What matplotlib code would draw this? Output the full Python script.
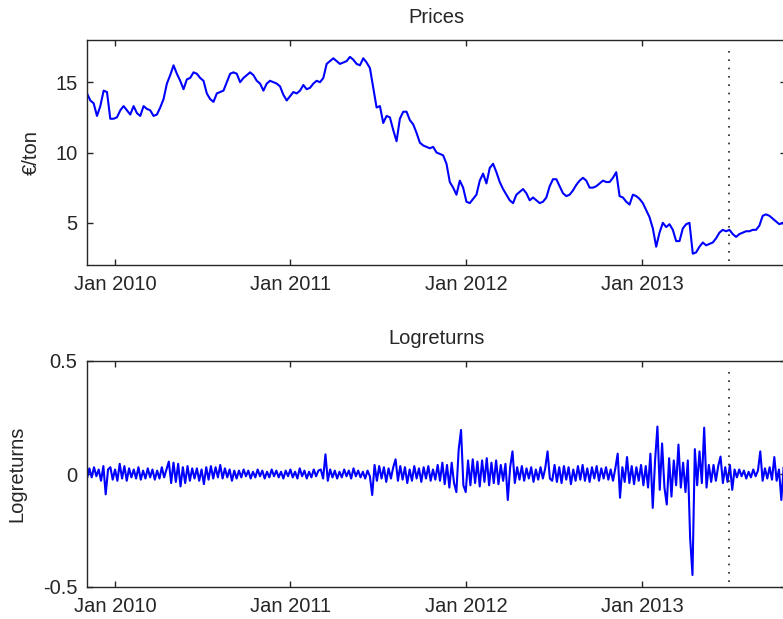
import numpy as np
import pandas as pd
import matplotlib
matplotlib.use('Agg')
import matplotlib.pyplot as plt
import matplotlib.dates as mdates

# weekly prices (EUR/ton), Nov 2009 - Oct 2013
prices = [
    14.2, 13.7, 13.5, 12.6, 13.3, 14.4, 14.3, 12.4, 12.4, 12.5,
    13.0, 13.3, 13.0, 12.7, 13.3, 12.8, 12.6, 13.3, 13.1, 13.0,
    12.6, 12.7, 13.2, 13.8, 14.9, 15.5, 16.2, 15.6, 15.1, 14.5,
    15.2, 15.3, 15.7, 15.6, 15.3, 15.1, 14.2, 13.8, 13.6, 14.2,
    14.3, 14.4, 15.0, 15.6, 15.7, 15.6, 15.0, 15.3, 15.5, 15.7,
    15.5, 15.1, 14.9, 14.4, 14.9, 15.1, 15.0, 14.9, 14.7, 14.1,
    13.7, 14.0, 14.3, 14.2, 14.4, 14.8, 14.5, 14.6, 14.9, 15.1,
    15.0,
    15.3, 16.3, 16.5, 16.7, 16.5, 16.3, 16.4, 16.5, 16.8, 16.6,
    16.3, 16.2, 16.7, 16.4, 16.0, 14.6, 13.2, 13.3, 12.1, 12.6,
    12.5, 11.6, 10.8, 12.4, 12.9, 12.9, 12.3, 12.0, 11.4, 10.7,
    10.5, 10.4, 10.3, 10.4, 10.0, 9.9, 9.8, 9.2, 7.9, 7.5,
    7.0, 8.0, 7.5, 6.5, 6.4, 6.7, 7.0, 8.0, 8.5, 7.8,
    8.9, 9.2, 8.6, 7.9, 7.4, 7.0, 6.6, 6.4, 7.0, 7.2,
    7.4, 7.1, 6.6, 6.8, 6.6, 6.4, 6.5, 6.8, 7.6,
    8.1, 8.1, 7.6, 7.1, 6.9, 7.0, 7.3, 7.7, 8.0, 8.2,
    8.0, 7.5, 7.5, 7.6, 7.8, 8.0, 7.9, 7.9, 8.2, 8.6,
    6.9, 6.8, 6.5, 6.3, 7.0, 6.9, 6.7, 6.4, 5.9, 5.4,
    4.6, 3.3, 4.3, 5.0, 4.7, 4.9, 4.5, 3.7, 3.7, 4.6,
    4.9, 5.0, 2.8, 2.9, 3.3, 3.6, 3.4, 3.5, 3.6, 3.9,
    4.3, 4.5, 4.4, 4.5, 4.2, 4.0, 4.2, 4.3, 4.4, 4.4,
    4.5, 4.5, 4.8, 5.5, 5.6, 5.5, 5.3, 5.1, 4.9, 5.0,
    4.7,
]

# log returns (about every 3 trading days)
logreturns = [
    -0.02, 0.025, -0.015, 0.03, -0.01, 0.02, -0.03, 0.035, -0.09, 0.02,
    0.03, -0.025, 0.02, -0.03, 0.045, -0.02, 0.035, -0.03, 0.025, -0.015,
    0.02, -0.02, 0.03, -0.025, 0.015, -0.02, 0.025, -0.015, 0.02, -0.025,
    0.015, -0.02, 0.03, -0.015, 0.02,
    0.055, -0.04, 0.05, -0.035, 0.045, -0.055, 0.03, -0.04, 0.035, -0.03, 0.025,
    -0.02, 0.025, -0.03, 0.02, -0.045, 0.03, -0.025, 0.035, -0.02, 0.03,
    -0.015, 0.04, -0.02, 0.025, -0.015, 0.02, -0.03, 0.015, -0.02, 0.015,
    -0.015, 0.02, -0.01, 0.015, -0.02, 0.01, -0.015, 0.02, -0.01, 0.015,
    -0.02, 0.01, -0.015, 0.02, -0.01, 0.015, -0.015, 0.01, -0.02, 0.015,
    -0.01, 0.02, -0.015, 0.01, -0.02, 0.025, -0.01, 0.015, -0.02, 0.01,
    -0.015, 0.02, -0.01, 0.015,
    0.02, -0.02, 0.087, -0.03,
    0.02, -0.015, 0.015, -0.02, 0.01, -0.015, 0.02, -0.01, 0.015, -0.02,
    0.025, -0.01, 0.015, -0.015, 0.01, -0.02, 0.015, -0.01,
    -0.093,
    0.04, -0.03, 0.035, -0.02, 0.03, -0.035, 0.025, -0.02, 0.03,
    0.065,
    -0.03, 0.035, -0.025, 0.03, -0.04, 0.02, -0.03, 0.035, -0.02, 0.025,
    -0.035, 0.03, -0.02, 0.035, -0.03, 0.02, -0.025, 0.04, -0.03,
    0.05, -0.045, 0.04, -0.06, 0.05, -0.04,
    -0.08, 0.11, 0.195, -0.05, -0.08,
    0.06, -0.05, 0.065, -0.04, 0.055, -0.055, 0.06, -0.035,
    0.07,
    -0.05, 0.05, -0.04, 0.06, -0.045, 0.04, -0.03, 0.045,
    -0.115, 0.03, 0.1,
    -0.04, 0.03, -0.025, 0.035, -0.03, 0.025, -0.02, 0.03, -0.035, 0.02,
    -0.025, 0.03, -0.02, 0.025,
    0.1, -0.02,
    -0.03, 0.04, -0.035, 0.03, -0.04, 0.035, -0.025, 0.03, -0.045, 0.02,
    -0.03, 0.035, -0.025, 0.04, -0.03, 0.025, -0.035, 0.03, -0.02, 0.035,
    -0.03, 0.025, -0.02, 0.03, -0.025, 0.02, -0.03, 0.025,
    0.09, -0.105, 0.03, -0.035, 0.075,
    -0.04, 0.035, -0.045, 0.03, -0.03, 0.04, -0.05, 0.035, -0.06,
    0.09, -0.15, 0.06, 0.21, -0.07, 0.135, -0.06, -0.135, 0.07, -0.1,
    0.06, -0.05, 0.13, -0.06, 0.05, -0.08, 0.06, -0.285, -0.447, 0.11,
    -0.05, 0.1, -0.04, 0.205, -0.06, 0.04,
    -0.035, 0.04, -0.03, 0.035, 0.077, -0.04, 0.03, -0.035, 0.04, -0.07,
    0.02, -0.015, 0.02, -0.01, 0.015, -0.02, 0.01, -0.015, 0.02, -0.01, 0.015,
    0.1,
    -0.03, 0.025, -0.02, 0.03, -0.025,
    0.075, -0.03, 0.02, -0.115, 0.03, -0.02,
]

start, end = '2009-11-04', '2013-10-27'
split_date = pd.Timestamp('2013-07-01')

price_dates = pd.date_range(start, end, periods=len(prices))
ret_dates = pd.date_range(start, end, periods=len(logreturns))

plt.rcParams['font.family'] = ['Liberation Sans', 'DejaVu Sans']
plt.rcParams['font.size'] = 14.5

W, H = 783, 619
fig = plt.figure(figsize=(W / 100, H / 100), dpi=100)

# axes boxes in pixels (left, top, right, bottom); right edge runs past the figure
def box(l, t, r, b):
    return [l / W, 1 - b / H, (r - l) / W, (b - t) / H]

ax1 = fig.add_axes(box(87, 40, 786, 265))
ax2 = fig.add_axes(box(87, 361, 786, 587))


def style(ax):
    # matlab look: box on, ticks inside on every side
    for s in ax.spines.values():
        s.set_linewidth(1.0)
        s.set_color('#262626')
    ax.tick_params(direction='in', length=4.5, width=1.0, top=True, right=True,
                   color='#262626', labelcolor='#262626', pad=7)
    ax.xaxis.set_major_locator(mdates.YearLocator(month=1, day=1))
    ax.xaxis.set_major_formatter(mdates.DateFormatter('%b %Y'))
    ax.set_xlim(price_dates[0], price_dates[-1])
    ax.axvline(split_date, ymin=0.02, ymax=0.98, color='#222222',
               linestyle=(0, (1, 4)), linewidth=1.2)


ax1.plot(price_dates, prices, color='blue', linewidth=1.5)
ax1.set_ylim(2, 18)
ax1.set_yticks([5, 10, 15])
ax1.set_title('Prices', fontsize=14.5, pad=12, color='#262626')
ax1.set_ylabel('€/ton', labelpad=10, color='#262626')
style(ax1)

ax2.plot(ret_dates, logreturns, color='blue', linewidth=1.5)
ax2.set_ylim(-0.5, 0.5)
ax2.set_yticks([-0.5, 0, 0.5])
ax2.set_yticklabels(['-0.5', '0', '0.5'])
ax2.set_title('Logreturns', fontsize=14.5, pad=12, color='#262626')
ax2.set_ylabel('Logreturns', labelpad=12, color='#262626')
style(ax2)

fig.savefig('out.png', dpi=100)
